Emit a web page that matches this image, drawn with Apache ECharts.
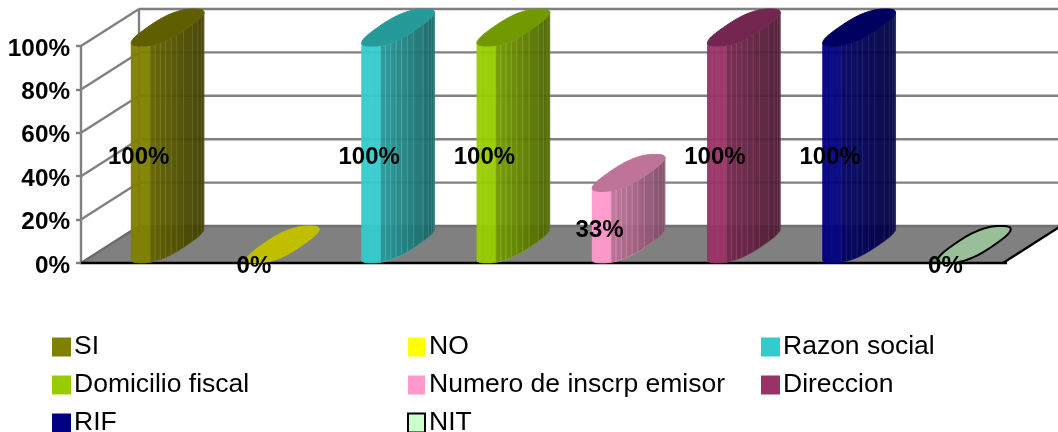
<!DOCTYPE html>
<html>
<head>
<meta charset="utf-8">
<style>html,body{margin:0;padding:0;background:#fff}#c{width:1058px;height:432px}</style>
<script src="https://cdn.jsdelivr.net/npm/echarts@6/dist/echarts.min.js"></script>
</head>
<body>
<div id="c"></div>
<script>
const categories = ['SI','NO','Razon social','Domicilio fiscal','Numero de inscrp emisor','Direccion','RIF','NIT'];
const seriesValues = [100,0,100,100,33,100,100,0];
const sideColors = ['#808000','#FFFF00','#33CCCC','#99CC00','#FF99CC','#993366','#000080','#CCFFCC'];
const topColors = ['#5F5F00','#BFBF00','#269A9A','#739900','#BF7399','#732650','#000060','#99BF99'];
const outlineColors = [null,null,null,null,null,null,null,'#000000'];
const yTicks = [0,20,40,60,80,100];
const legendColumns = [
  ['SI','Domicilio fiscal','RIF'],
  ['NO','Numero de inscrp emisor','NIT'],
  ['Razon social','Direccion']
];

const DEPTH_X = 58, DEPTH_Y = 37;
const FONT = '"Liberation Sans", Arial, sans-serif';
const GRAY = '#808080';
const EXP = 0.75, RX = 20.5, RDX = 26.5, RDY = 18.5, STEPS = 64;

function rgb(hex){return [1,3,5].map(i=>parseInt(hex.substr(i,2),16));}
function shade(hex,f,lift){
  const c = rgb(hex).map(v=>Math.min(255,Math.round(v*f+(lift||0))));
  return 'rgb('+c.join(',')+')';
}
function sp(v){return Math.sign(v)*Math.pow(Math.abs(v),EXP);}

function ring(cx,cy){
  const pts=[];
  for(let k=0;k<STEPS;k++){
    const t=2*Math.PI*k/STEPS, C=sp(Math.cos(t)), S=sp(Math.sin(t));
    pts.push([cx+RX*C+RDX*S, cy-RDY*S]);
  }
  return pts;
}

function renderColumn(i,params,api){
  const cat = api.value(0), val = api.value(1);
  const base = api.coord([cat,0]);
  const top = api.coord([cat,val]);
  const cx = base[0]+DEPTH_X/2;
  const cyB = base[1]-DEPTH_Y/2, cyT = top[1]-DEPTH_Y/2;
  const children = [];
  const bottom = ring(cx,cyB), upper = ring(cx,cyT);
  let iL=0,iR=0;
  bottom.forEach((p,k)=>{ if(p[0]<bottom[iL][0]) iL=k; if(p[0]>bottom[iR][0]) iR=k; });
  const minX=bottom[iL][0], maxX=bottom[iR][0];
  if(val>0){
    const count=(iR-iL+STEPS)%STEPS, stride=2;
    for(let k=0;k<count;k+=stride){
      const a=(iL+k)%STEPS, b=(iL+Math.min(k+stride,count))%STEPS;
      const frac=(bottom[a][0]-minX)/(maxX-minX);
      const fracEnd=(bottom[b][0]-minX)/(maxX-minX);
      const bright=fracEnd<0.27;
      const f=bright?1:0.84-0.38*frac;
      const fill=shade(sideColors[i],f);
      const line=bright?fill:shade(sideColors[i],f*1.05,30);
      children.push({type:'polygon',shape:{points:[upper[a],upper[b],bottom[b],bottom[a]]},
        style:{fill:fill,stroke:line,lineWidth:0.7,opacity:0.95}});
    }
  }
  children.push({type:'polygon',shape:{points:upper},
    style:{fill:topColors[i],stroke:outlineColors[i]||topColors[i],lineWidth:outlineColors[i]?2:1}});
  return {type:'group',children:children};
}

const columnSeries = categories.map((name,i)=>({
  type:'custom',name:name,z:3,silent:true,
  itemStyle:{color:sideColors[i],
    borderColor:outlineColors[i]||undefined,borderWidth:outlineColors[i]?2:0},
  data:[[i,seriesValues[i]]],
  encode:{x:0,y:1},
  renderItem:(p,api)=>renderColumn(i,p,api)
}));

const wallSeries = {
  type:'custom',z:1,silent:true,
  data:yTicks.map(v=>[0,v]),
  encode:{y:1},
  renderItem:(p,api)=>{
    const c=p.coordSys, y=api.coord([0,api.value(1)])[1];
    const L=c.x, R=c.x+c.width;
    const line=(x1,y1,x2,y2,col)=>({type:'line',shape:{x1,y1,x2,y2},
      style:{stroke:col||GRAY,lineWidth:2.4}});
    const kids=[];
    if(api.value(1)===0){
      kids.push({type:'polygon',shape:{points:[[L,y],[R,y],[R+DEPTH_X,y-DEPTH_Y],[L+DEPTH_X,y-DEPTH_Y]]},
        style:{fill:GRAY,stroke:null}});
      kids.push(line(L,y,L+DEPTH_X,y-DEPTH_Y,'#6a6a6a'));
      kids.push(line(L+DEPTH_X,y-DEPTH_Y,R+DEPTH_X,y-DEPTH_Y,'#707070'));
      kids.push(line(L+DEPTH_X,y-DEPTH_Y,L+DEPTH_X,c.y-DEPTH_Y));
      kids.push(line(L,y,R+4,y,'#000'));
      kids.push(line(R,y,R+DEPTH_X,y-DEPTH_Y,'#000'));
    } else {
      kids.push(line(L,y,L+DEPTH_X,y-DEPTH_Y));
      kids.push(line(L+DEPTH_X,y-DEPTH_Y,R+DEPTH_X,y-DEPTH_Y));
    }
    return {type:'group',children:kids};
  }
};

const labelSeries = {
  type:'scatter',z:6,silent:true,symbolSize:0,
  itemStyle:{opacity:1},
  data:seriesValues.map((v,i)=>[i,v/2,v]),
  label:{show:true,position:'inside',color:'#000',opacity:1,offset:[0,3],
    fontFamily:FONT,fontWeight:'bold',fontSize:24,
    formatter:p=>p.value[2]+'%'}
};

const legendLefts=[52,407,761];
const legendIcon=[19,17,19];
const legendShift=[-2,-1,-2];
const legends=legendColumns.map((col,i)=>({
  data:col.map(n=>({name:n,icon:'rect'})),
  orient:'vertical',left:legendLefts[i],top:333.5,height:140,padding:0,
  itemWidth:legendIcon[i],itemHeight:19,itemGap:11,selectedMode:false,
  textStyle:{fontFamily:FONT,fontSize:26.5,color:'#000',padding:[0,0,0,legendShift[i]]}
}));

const chart=echarts.init(document.getElementById('c'),null,{renderer:'canvas'});
chart.setOption({
  animation:false,
  backgroundColor:'#fff',
  grid:{left:81,right:55,top:46,bottom:169,containLabel:false},
  legend:legends,
  xAxis:{type:'category',data:categories,show:false},
  yAxis:{type:'value',min:0,max:100,interval:20,
    axisLine:{show:true,lineStyle:{color:GRAY,width:2.4}},
    axisTick:{show:true,length:5,lineStyle:{color:GRAY,width:2.4}},
    splitLine:{show:false},
    axisLabel:{formatter:'{value}%',margin:11,color:'#000',verticalAlign:'top',lineHeight:6,
      fontFamily:FONT,fontWeight:'bold',fontSize:24.3}},
  series:[wallSeries].concat(columnSeries,[labelSeries])
});
</script>
</body>
</html>
